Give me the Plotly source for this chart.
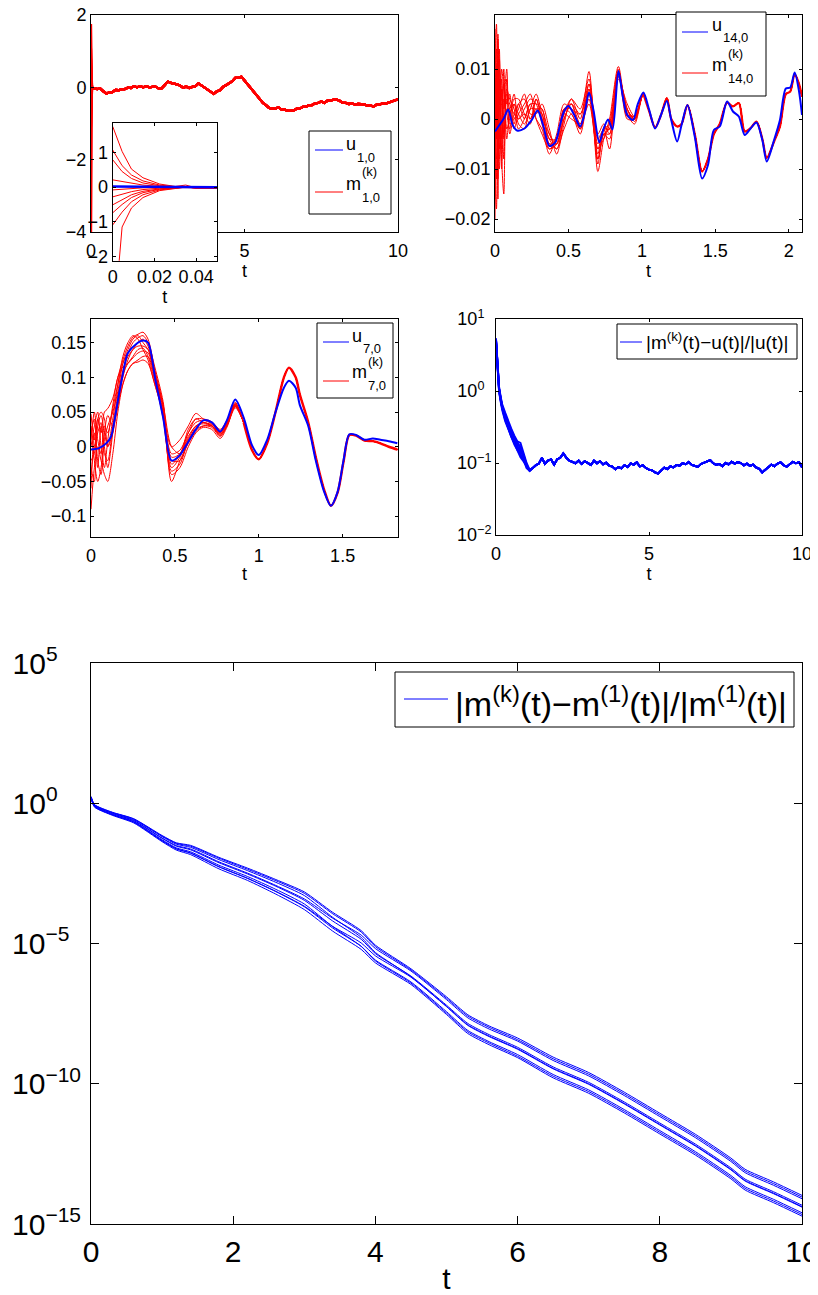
import numpy as np
import plotly.graph_objects as go

# page is 818x1295; the HTML body adds an 8px margin, so the figure is 810x1287
PAGE_W, PAGE_H = 818, 1295
OFF = 8
W, H = PAGE_W - OFF, PAGE_H - OFF
FONT = "Liberation Sans, Arial, Helvetica, sans-serif"
BLUE = "#0000ff"
RED = "#ff0000"

# ---------------- Panel 1 : u_{1,0} and m^{(k)}_{1,0} ----------------
p1_early_t = [0, 0.01, 0.02, 0.03, 0.04, 0.05]
p1_u_early = [0.02, 0.02, 0.02, 0.02, 0.01, 0.0]
p1_tail = [-0.02, -0.05, -0.03, -0.11, -0.17, -0.14, -0.13, -0.07, -0.08, -0.05,
           -0.05, -0.01, -0.02, 0.03, 0.0, 0.03, 0.0, 0.03, 0.0, 0.01,
           0.02, -0.03, -0.03, 0.06, 0.16, 0.12, 0.11, 0.08, 0.05, -0.01,
           0.02, -0.02, 0.01, 0.03, 0.11, 0.05, 0.01, -0.06, -0.11, -0.18,
           -0.11, -0.08, 0.01, 0.05, 0.11, 0.17, 0.26, 0.27, 0.29, 0.19,
           0.09, -0.04, -0.11, -0.23, -0.31, -0.43, -0.49, -0.57, -0.59, -0.59,
           -0.55, -0.61, -0.61, -0.65, -0.65, -0.64, -0.59, -0.59, -0.54, -0.54,
           -0.49, -0.49, -0.44, -0.43, -0.39, -0.43, -0.37, -0.37, -0.34, -0.34,
           -0.37, -0.43, -0.43, -0.46, -0.45, -0.47, -0.46, -0.47, -0.47, -0.51,
           -0.50, -0.53, -0.48, -0.48, -0.44, -0.45, -0.42, -0.41, -0.36, -0.33]
p1_tail_t = list(np.round(np.linspace(0.1, 10.0, len(p1_tail)), 3))

inset_t = [0, 0.0045, 0.009, 0.0145, 0.0225, 0.03, 0.035, 0.04, 0.05]
inset_members = [
    [1.75, 1.03, 0.52, 0.27, 0.09, 0.02, 0.06, -0.02, -0.02],
    [1.07, 0.62, 0.35, 0.18, 0.06, 0.01, 0.0, -0.02, -0.02],
    [0.79, 0.45, 0.25, 0.12, 0.04, 0.01, 0.0, -0.02, -0.02],
    [0.21, 0.16, 0.10, 0.06, 0.02, 0.0, 0.0, -0.02, -0.02],
    [-0.08, -0.06, -0.04, -0.02, -0.01, -0.01, 0.0, -0.02, -0.02],
    [-0.28, -0.20, -0.13, -0.07, -0.03, -0.02, 0.0, -0.02, -0.02],
    [-0.51, -0.36, -0.22, -0.12, -0.05, -0.02, 0.0, -0.02, -0.02],
    [-0.74, -0.50, -0.30, -0.16, -0.06, -0.03, 0.0, -0.02, -0.02],
    [-1.09, -0.72, -0.42, -0.22, -0.08, -0.03, 0.0, -0.02, -0.02],
    [-4.30, -1.15, -0.60, -0.30, -0.10, -0.04, 0.0, -0.02, -0.02],
]

# ---------------- Panel 2 : u_{14,0} ----------------
u14_t = [0, 0.03, 0.06, 0.09, 0.12, 0.15, 0.2, 0.25, 0.29, 0.33,
         0.37, 0.41, 0.44, 0.47, 0.5, 0.54, 0.58, 0.61, 0.64, 0.67,
         0.71, 0.74, 0.77, 0.8, 0.84, 0.87, 0.9, 0.94, 0.97, 1.01,
         1.05, 1.09, 1.13, 1.17, 1.2, 1.24, 1.27, 1.31, 1.36, 1.41,
         1.45, 1.49, 1.53, 1.58, 1.62, 1.66, 1.7, 1.74, 1.78, 1.82,
         1.85, 1.9, 1.94, 1.98, 2.01, 2.04, 2.07, 2.09]
u14 = [-0.0025, -0.0012, 0.0001, 0.0019, -0.0012, -0.0023, -0.0019, -0.0002, 0.0017, -0.0015,
       -0.0054, -0.0047, -0.0015, 0.0015, 0.0026, 0.0008, -0.0015, 0.0011, 0.0053, 0.0018,
       -0.0047, -0.0019, -0.0001, -0.0021, 0.0096, 0.0045, 0.0008, -0.0002, 0.0028, 0.0053,
       0.0018, -0.0019, 0.0008, 0.0036, -0.0002, -0.0045, -0.0012, 0.0028, -0.0035, -0.0119,
       -0.0092, -0.0022, -0.0015, 0.0035, 0.0015, 0.0005, -0.0032, -0.0019, -0.0007, -0.0042,
       -0.0085, -0.0042, -0.0002, 0.0061, 0.0063, 0.0093, 0.0055, 0.0008]
m14_early_t = [0, 0.01, 0.02, 0.03, 0.045, 0.06, 0.08, 0.1, 0.13, 0.16, 0.2, 0.24, 0.28,
               0.32, 0.37, 0.42, 0.47, 0.52, 0.58, 0.64, 0.7, 0.74, 0.78, 0.84, 0.9, 0.95]
m14_members = [
    [0.018, -0.004, 0.016, -0.006, 0.008, 0.002, 0.005, 0.003, 0.001, 0.000, 0.002, 0.004, 0.003,
     -0.001, -0.006, -0.004, 0.002, 0.003, -0.001, 0.006, -0.006, -0.002, -0.001, 0.0095, 0.001, 0.000],
    [-0.020, 0.010, -0.012, 0.008, -0.004, 0.004, 0.001, -0.002, 0.003, 0.001, -0.001, 0.002, 0.005,
     0.001, -0.004, -0.006, 0.000, 0.003, -0.002, 0.004, -0.008, -0.003, -0.002, 0.0085, 0.002, 0.000],
    [0.012, 0.019, -0.002, -0.010, 0.006, -0.003, 0.004, 0.002, -0.001, 0.003, 0.004, 0.000, 0.002,
     0.002, -0.005, -0.005, 0.001, 0.004, 0.000, 0.0095, -0.0105, -0.004, 0.000, 0.0105, 0.0015, 0.0005],
    [-0.012, -0.018, 0.006, 0.012, -0.008, -0.015, 0.006, 0.004, 0.002, -0.002, 0.000, 0.003, 0.000,
     -0.002, -0.007, -0.003, 0.003, 0.002, 0.001, 0.007, -0.003, -0.001, -0.003, 0.009, 0.002, -0.0005],
    [0.005, 0.010, 0.017, 0.004, -0.006, 0.010, -0.002, 0.000, 0.004, 0.004, 0.001, -0.001, 0.004,
     0.000, -0.003, -0.006, -0.002, 0.001, -0.003, 0.005, -0.007, -0.002, -0.002, 0.0095, 0.000, 0.000],
    [-0.006, 0.006, -0.016, 0.010, 0.004, -0.008, 0.008, -0.001, 0.000, 0.002, 0.005, 0.001, 0.001,
     0.003, -0.002, -0.007, -0.001, 0.004, 0.002, 0.008, -0.009, -0.003, -0.004, 0.008, 0.003, 0.0005],
    [0.008, -0.012, 0.008, -0.004, 0.010, 0.006, -0.004, 0.001, 0.003, -0.001, -0.002, 0.002, 0.002,
     0.001, -0.004, -0.004, 0.002, 0.002, -0.002, 0.006, -0.005, -0.002, -0.006, 0.0095, 0.001, -0.001],
    [-0.016, 0.004, 0.012, -0.008, 0.000, 0.007, 0.003, 0.005, -0.002, 0.001, 0.003, 0.005, 0.000,
     -0.003, -0.006, -0.005, 0.001, 0.000, -0.001, 0.003, -0.006, -0.004, -0.001, 0.010, 0.0005, 0.000],
    [0.002, -0.008, -0.006, 0.014, -0.010, 0.002, 0.010, -0.003, 0.001, 0.003, 0.000, 0.003, 0.003,
     0.002, -0.003, -0.005, 0.000, 0.003, 0.001, 0.005, -0.008, -0.003, -0.003, 0.009, 0.002, 0.000],
    [0.010, 0.014, -0.008, 0.002, 0.003, -0.004, 0.002, 0.002, 0.005, 0.000, 0.001, 0.000, 0.004,
     0.000, -0.005, -0.004, 0.002, 0.001, -0.002, 0.007, -0.004, -0.002, -0.002, 0.0085, 0.001, 0.0005],
]
m14_tail_t = [1.01, 1.05, 1.09, 1.13, 1.17, 1.2, 1.24, 1.27, 1.31, 1.36,
              1.41, 1.45, 1.49, 1.53, 1.58, 1.62, 1.66, 1.7, 1.74, 1.78,
              1.82, 1.85, 1.9, 1.94, 1.98, 2.01, 2.04, 2.07, 2.09]
m14_tail = [0.005, 0.0015, -0.0017, 0.0008, 0.0042, 0.0, -0.0015, -0.001, 0.0028, -0.003,
            -0.0105, -0.008, -0.003, -0.001, 0.0033, 0.0025, 0.0032, -0.0025, -0.0018, -0.0005,
            -0.004, -0.0078, -0.0045, -0.0015, 0.005, 0.0055, 0.009, 0.007, 0.0045]

# ---------------- Panel 3 : u_{7,0} ----------------
u7_t = [0, 0.048, 0.095, 0.12, 0.145, 0.17, 0.19, 0.22, 0.27, 0.31,
        0.34, 0.385, 0.43, 0.48, 0.53, 0.575, 0.625, 0.67, 0.72, 0.77,
        0.81, 0.86, 0.91, 0.96, 1.0, 1.05, 1.1, 1.15, 1.18, 1.22,
        1.245, 1.295, 1.34, 1.39, 1.43, 1.47, 1.505, 1.54, 1.58, 1.63,
        1.68, 1.725, 1.775, 1.826]
u7 = [-0.004, -0.002, 0.006, 0.015, 0.045, 0.08, 0.105, 0.135, 0.148, 0.153,
      0.15, 0.095, 0.042, -0.02, -0.012, 0.005, 0.025, 0.038, 0.035, 0.022,
      0.038, 0.068, 0.042, 0.002, -0.012, 0.01, 0.05, 0.085, 0.095, 0.085,
      0.06, 0.03, -0.02, -0.065, -0.085, -0.065, -0.02, 0.018, 0.017, 0.01,
      0.012, 0.01, 0.008, 0.005]
m7_early_t = [0, 0.02, 0.04, 0.06, 0.08, 0.1, 0.13, 0.16, 0.19, 0.22, 0.25, 0.28, 0.31,
              0.34, 0.38, 0.43, 0.48, 0.53, 0.58, 0.625, 0.67, 0.72, 0.77, 0.81, 0.86]
m7_members = [
    [0.047, 0.01, 0.04, 0.02, 0.05, 0.055, 0.07, 0.1, 0.125, 0.145, 0.158, 0.162, 0.165,
     0.155, 0.11, 0.05, 0.0, 0.01, 0.03, 0.048, 0.04, 0.035, 0.022, 0.035, 0.062],
    [-0.09, -0.03, 0.0, -0.02, -0.04, -0.05, -0.01, 0.05, 0.09, 0.11, 0.12, 0.125, 0.13,
     0.13, 0.1, 0.06, 0.0, -0.01, 0.015, 0.03, 0.035, 0.03, 0.018, 0.03, 0.058],
    [-0.06, 0.02, -0.03, 0.03, 0.0, -0.03, 0.02, 0.07, 0.11, 0.13, 0.14, 0.15, 0.155,
     0.145, 0.1, 0.04, -0.03, -0.015, 0.02, 0.035, 0.038, 0.033, 0.02, 0.033, 0.06],
    [0.02, 0.04, -0.02, -0.04, 0.01, 0.03, 0.05, 0.08, 0.12, 0.14, 0.155, 0.16, 0.15,
     0.14, 0.11, 0.06, -0.02, -0.02, 0.01, 0.025, 0.03, 0.028, 0.015, 0.03, 0.058],
    [-0.03, -0.05, 0.03, 0.045, 0.02, 0.0, 0.04, 0.09, 0.13, 0.15, 0.16, 0.155, 0.14,
     0.125, 0.09, 0.05, -0.01, -0.005, 0.02, 0.04, 0.04, 0.036, 0.025, 0.038, 0.064],
    [0.0, 0.03, 0.05, 0.0, -0.03, 0.01, 0.06, 0.1, 0.115, 0.12, 0.128, 0.135, 0.138,
     0.135, 0.105, 0.06, -0.04, -0.03, 0.0, 0.02, 0.028, 0.025, 0.012, 0.028, 0.056],
    [0.03, -0.02, -0.05, -0.03, 0.02, 0.045, 0.03, 0.06, 0.1, 0.125, 0.14, 0.145, 0.145,
     0.14, 0.1, 0.055, -0.05, -0.02, 0.005, 0.022, 0.03, 0.03, 0.018, 0.032, 0.06],
    [-0.04, 0.0, 0.02, 0.035, -0.01, -0.02, 0.03, 0.075, 0.105, 0.12, 0.13, 0.14, 0.142,
     0.13, 0.095, 0.05, -0.015, -0.01, 0.025, 0.04, 0.035, 0.032, 0.02, 0.036, 0.062],
    [0.01, 0.05, 0.01, -0.01, 0.03, 0.02, 0.055, 0.09, 0.12, 0.135, 0.15, 0.157, 0.16,
     0.15, 0.115, 0.065, -0.025, -0.012, 0.012, 0.03, 0.033, 0.03, 0.016, 0.03, 0.059],
    [-0.02, -0.01, 0.04, 0.05, 0.04, 0.0, 0.02, 0.06, 0.09, 0.11, 0.12, 0.122, 0.125,
     0.12, 0.09, 0.045, -0.035, -0.025, 0.008, 0.028, 0.035, 0.03, 0.02, 0.034, 0.061],
]
m7_tail_t = [0.91, 0.96, 1.0, 1.05, 1.1, 1.15, 1.18, 1.22, 1.245, 1.295, 1.34,
             1.39, 1.43, 1.47, 1.505, 1.54, 1.58, 1.63, 1.68, 1.725, 1.775, 1.826]
m7_tail = [0.035, -0.005, -0.018, 0.005, 0.05, 0.1, 0.114, 0.1, 0.075, 0.035, -0.015,
           -0.062, -0.085, -0.066, -0.022, 0.017, 0.016, 0.009, 0.008, 0.005, 0.0, -0.004]

# ---------------- Panel 4 : |m^(k)-u|/|u| ----------------
err_early_t = [0, 0.03, 0.06, 0.1, 0.15, 0.2, 0.3, 0.4, 0.5, 0.6, 0.7, 0.8, 0.9, 1.0, 1.1]
err_members = [
    [5.2, 3.1, 2.0, 1.1, 0.8, 0.6, 0.45, 0.36, 0.28, 0.22, 0.17, 0.15, 0.12, 0.09, 0.08],
    [5.0, 2.8, 1.9, 1.0, 0.75, 0.58, 0.4, 0.3, 0.24, 0.19, 0.15, 0.13, 0.11, 0.085, 0.078],
    [5.4, 3.3, 2.1, 1.15, 0.85, 0.66, 0.5, 0.38, 0.3, 0.24, 0.2, 0.19, 0.14, 0.1, 0.08],
    [4.8, 2.9, 1.8, 0.98, 0.72, 0.55, 0.38, 0.29, 0.22, 0.18, 0.15, 0.12, 0.105, 0.09, 0.078],
    [5.1, 3.0, 2.05, 1.08, 0.82, 0.63, 0.47, 0.35, 0.27, 0.2, 0.16, 0.14, 0.13, 0.095, 0.08],
    [5.3, 3.2, 2.0, 1.05, 0.78, 0.6, 0.42, 0.32, 0.25, 0.21, 0.18, 0.16, 0.12, 0.092, 0.078],
    [4.9, 2.9, 1.95, 1.02, 0.77, 0.6, 0.44, 0.34, 0.27, 0.23, 0.19, 0.17, 0.13, 0.09, 0.079],
    [5.2, 3.1, 2.1, 1.1, 0.8, 0.61, 0.41, 0.31, 0.23, 0.19, 0.16, 0.13, 0.115, 0.088, 0.078],
]
err_tail = [0.085, 0.093, 0.098, 0.118, 0.097, 0.108, 0.112, 0.095, 0.113, 0.118,
            0.136, 0.118, 0.108, 0.104, 0.099, 0.108, 0.097, 0.106, 0.100, 0.094,
            0.108, 0.099, 0.106, 0.096, 0.101, 0.092, 0.089, 0.082, 0.088, 0.084,
            0.093, 0.088, 0.099, 0.095, 0.102, 0.090, 0.093, 0.085, 0.081, 0.079,
            0.074, 0.071, 0.079, 0.086, 0.082, 0.090, 0.087, 0.094, 0.092, 0.100,
            0.096, 0.103, 0.094, 0.092, 0.088, 0.097, 0.101, 0.106, 0.110, 0.099,
            0.094, 0.097, 0.090, 0.100, 0.096, 0.104, 0.098, 0.103, 0.100, 0.093,
            0.098, 0.091, 0.095, 0.087, 0.083, 0.074, 0.080, 0.086, 0.095, 0.090,
            0.098, 0.102, 0.093, 0.089, 0.097, 0.104, 0.099, 0.103, 0.087]
err_tail_t = list(np.round(np.linspace(1.2, 10.0, len(err_tail)), 3))

# ---------------- Panel 5 : |m^(k)-m^(1)|/|m^(1)| (log10 values) ----------------
d_t = [0, 0.05, 0.3, 0.6, 1.0, 1.2, 1.4, 1.8, 2.2, 2.6, 3.0, 3.4, 3.8, 4.0,
       4.5, 5.0, 5.3, 5.6, 6.0, 6.5, 7.0, 7.5, 8.0, 8.5, 9.0, 9.2, 9.6, 10.0]
d_log10 = [
    [0.24, -0.05, -0.32, -0.55, -1.15, -1.41, -1.5, -1.93, -2.31, -2.72, -3.16, -3.89, -4.54, -5.06,
     -5.9, -6.9, -7.54, -7.94, -8.37, -9.05, -9.6, -10.3, -11.05, -11.8, -12.65, -13.05, -13.5, -13.98],
    [0.23, -0.06, -0.33, -0.56, -1.17, -1.43, -1.53, -1.96, -2.35, -2.76, -3.21, -3.94, -4.59, -5.11,
     -5.94, -6.95, -7.59, -7.99, -8.43, -9.11, -9.66, -10.36, -11.11, -11.86, -12.71, -13.11, -13.56, -14.04],
    [0.21, -0.09, -0.36, -0.61, -1.24, -1.51, -1.63, -2.09, -2.49, -2.93, -3.41, -4.1, -4.7, -5.18,
     -5.98, -7.0, -7.65, -8.05, -8.48, -9.17, -9.72, -10.42, -11.17, -11.92, -12.77, -13.17, -13.62, -14.1],
    [0.21, -0.09, -0.37, -0.62, -1.25, -1.53, -1.66, -2.12, -2.52, -2.96, -3.46, -4.2, -4.85, -5.36,
     -6.16, -7.2, -7.85, -8.25, -8.7, -9.4, -9.95, -10.65, -11.4, -12.15, -13.0, -13.4, -13.85, -14.33],
    [0.23, -0.07, -0.34, -0.58, -1.19, -1.46, -1.57, -2.01, -2.4, -2.82, -3.29, -4.07, -4.78, -5.32,
     -6.18, -7.25, -7.92, -8.32, -8.77, -9.47, -10.02, -10.72, -11.47, -12.22, -13.07, -13.47, -13.92, -14.4],
    [0.18, -0.13, -0.41, -0.67, -1.34, -1.63, -1.78, -2.27, -2.68, -3.15, -3.69, -4.45, -5.1, -5.59,
     -6.37, -7.43, -8.1, -8.5, -8.96, -9.67, -10.22, -10.92, -11.67, -12.42, -13.27, -13.67, -14.12, -14.6],
    [0.19, -0.11, -0.4, -0.65, -1.3, -1.59, -1.73, -2.21, -2.61, -3.07, -3.59, -4.4, -5.1, -5.62,
     -6.41, -7.48, -8.15, -8.55, -9.02, -9.73, -10.28, -10.98, -11.73, -12.48, -13.33, -13.73, -14.18, -14.66],
    [0.17, -0.14, -0.43, -0.7, -1.37, -1.67, -1.83, -2.34, -2.75, -3.24, -3.79, -4.56, -5.21, -5.69,
     -6.46, -7.53, -8.21, -8.61, -9.07, -9.79, -10.34, -11.04, -11.79, -12.54, -13.39, -13.79, -14.24, -14.72],
    [0.18, -0.12, -0.41, -0.67, -1.33, -1.62, -1.77, -2.26, -2.67, -3.14, -3.67, -4.39, -4.98, -5.44,
     -6.2, -7.24, -7.9, -8.3, -8.75, -9.45, -10.0, -10.7, -11.45, -12.2, -13.05, -13.45, -13.9, -14.38],
]

# ---------------- figure ----------------
def PX(x):
    """page pixel x -> paper fraction"""
    return (x - OFF) / W

def PY(y):
    """page pixel y (from top) -> paper fraction"""
    return 1 - (y - OFF) / H

fig = go.Figure()

def line(x, y, ax, color, width, shape="linear", smoothing=0.8):
    fig.add_trace(go.Scatter(x=x, y=y, mode="lines", xaxis="x" + ax, yaxis="y" + ax,
                             line=dict(color=color, width=width, shape=shape, smoothing=smoothing),
                             showlegend=False, hoverinfo="skip"))

# panel 1
line(p1_early_t + p1_tail_t, p1_u_early + p1_tail, "", BLUE, 2)
for m in inset_members:
    line(inset_t + p1_tail_t, m + p1_tail, "", RED, 2.3)

# panel 2
for m in m14_members:
    line(m14_early_t + m14_tail_t, m + m14_tail, "2", RED, 1, "spline")
line(m14_tail_t, m14_tail, "2", RED, 2.2, "spline")
line(u14_t, u14, "2", BLUE, 2, "spline")

# panel 3
for m in m7_members:
    line(m7_early_t + m7_tail_t, m + m7_tail, "3", RED, 1, "spline")
line(m7_tail_t, m7_tail, "3", RED, 2.4, "spline")
line(u7_t, u7, "3", BLUE, 2, "spline")

# panel 4
for m in err_members:
    line(err_early_t + err_tail_t, m + err_tail, "4", BLUE, 1.9)

# panel 5
for c in d_log10:
    line(d_t, list(10 ** np.array(c)), "5", BLUE, 1, "spline", 0.6)

# inset (drawn last so it sits on top of panel 1)
for m in inset_members:
    line(inset_t, m, "6", RED, 1)
line(p1_early_t, p1_u_early, "6", BLUE, 2.5)

def axis(dom, anchor, fs=18, tl=3, **kw):
    d = dict(domain=dom, anchor=anchor, showline=True, linecolor="black", linewidth=1,
             mirror="ticks", ticks="inside", ticklen=tl, tickcolor="black", tickwidth=1,
             showgrid=False, zeroline=False, automargin=False, ticklabeloverflow="allow",
             tickfont=dict(family=FONT, size=fs, color="black"))
    d.update(kw)
    return d

def ttl(fs, so):
    return dict(text="t", font=dict(family=FONT, size=fs, color="black"), standoff=so)

fig.update_layout(
    width=W, height=H, autosize=False,
    margin=dict(l=0, r=0, t=0, b=0, pad=0, autoexpand=False),
    paper_bgcolor="white", plot_bgcolor="white",
    font=dict(family=FONT, color="black"),
    showlegend=False,
    # panel 1
    xaxis=axis([PX(91), PX(398)], "y", range=[0, 10], tickvals=[0, 5, 10],
               ticklabelstandoff=2, title=ttl(18, 2)),
    yaxis=axis([PY(232), PY(15)], "x", range=[-4, 2], tickvals=[-4, -2, 0, 2]),
    # panel 2
    xaxis2=axis([PX(495), PX(802)], "y2", range=[0, 2.09], tickvals=[0, 0.5, 1, 1.5, 2],
                ticklabelstandoff=2, title=ttl(18, 2)),
    yaxis2=axis([PY(232), PY(15)], "x2", range=[-0.0226, 0.0208],
                tickvals=[-0.02, -0.01, 0, 0.01]),
    # panel 3
    xaxis3=axis([PX(91), PX(398)], "y3", range=[0, 1.83], tickvals=[0, 0.5, 1, 1.5],
                ticklabelstandoff=2, title=ttl(18, 2)),
    yaxis3=axis([PY(537), PY(319)], "x3", range=[-0.13, 0.184],
                tickvals=[-0.1, -0.05, 0, 0.05, 0.1, 0.15]),
    # panel 4
    xaxis4=axis([PX(496), PX(802)], "y4", range=[0, 10], tickvals=[0, 5, 10],
                ticklabelstandoff=2, title=ttl(18, 2)),
    yaxis4=axis([PY(535), PY(319)], "x4", type="log", range=[-2, 1],
                tickvals=[0.01, 0.1, 1, 10],
                ticktext=["10<sup>−2</sup>", "10<sup>−1</sup>",
                          "10<sup>0&nbsp;&nbsp;</sup>", "10<sup>1&nbsp;&nbsp;</sup>"]),
    # panel 5
    xaxis5=axis([PX(91), PX(802)], "y5", fs=30, tl=8, range=[0, 10],
                tickvals=[0, 2, 4, 6, 8, 10], ticklabelstandoff=1, title=ttl(30, 12)),
    yaxis5=axis([PY(1224), PY(663)], "x5", fs=30, tl=8, type="log", range=[-15, 5],
                tickvals=[1e-15, 1e-10, 1e-5, 1, 1e5],
                ticktext=["10<sup>−15</sup>", "10<sup>−10</sup>",
                          "10<sup>−5&nbsp;&nbsp;</sup>",
                          "10<sup>0&nbsp;&nbsp;&nbsp;&nbsp;</sup>",
                          "10<sup>5&nbsp;&nbsp;&nbsp;&nbsp;</sup>"],
                ticklabelstandoff=3),
    # inset
    xaxis6=axis([PX(112.7), PX(217)], "y6", range=[0, 0.05], tickvals=[0, 0.02, 0.04],
                ticklabelstandoff=0, title=ttl(18, 0)),
    yaxis6=axis([PY(260.7), PY(123.3)], "x6", range=[-2.12, 1.84],
                tickvals=[-2, -1, 0, 1]),
)

# ---------------- legends (boxes, sample lines, stacked sub/superscripts) ----------------
shapes = []
annos = []

def box(x0, y0, x1, y1):
    shapes.append(dict(type="rect", xref="paper", yref="paper", x0=PX(x0), x1=PX(x1),
                       y0=PY(y1), y1=PY(y0), line=dict(color="black", width=1),
                       fillcolor="white", layer="above"))

def sample(x0, x1, y, color):
    shapes.append(dict(type="line", xref="paper", yref="paper", x0=PX(x0), x1=PX(x1),
                       y0=PY(y), y1=PY(y), line=dict(color=color, width=1), layer="above"))

def text(x, y, s, fs):
    annos.append(dict(xref="paper", yref="paper", x=PX(x), y=PY(y), text=s, showarrow=False,
                      xanchor="left", yanchor="middle", borderpad=0,
                      font=dict(family=FONT, size=fs, color="black")))

def stacked_legend(bx, sx, tx, ys, idx):
    box(*bx)
    sample(sx[0], sx[1], ys["lu"], BLUE)
    sample(sx[0], sx[1], ys["lm"], RED)
    text(tx, ys["u"], "u", 18)
    text(tx + 11, ys["su"], idx, 13)
    text(tx + 16, ys["k"], "(k)", 13)
    text(tx, ys["m"], "m", 18)
    text(tx + 16, ys["sm"], idx, 13)

stacked_legend((309, 131, 391, 214), (315, 343), 345,
               dict(lu=150, lm=192, u=144, su=157, k=171, m=184, sm=197), "1,0")
stacked_legend((676, 12, 766, 96), (682, 708), 711,
               dict(lu=32, lm=73, u=25, su=38, k=54, m=65, sm=79), "14,0")
stacked_legend((317, 323, 393, 398), (323, 349), 351,
               dict(lu=342, lm=381, u=336, su=349, k=361, m=372, sm=385), "7,0")

box(617, 324, 797, 359)
sample(620, 642, 342, BLUE)
text(645, 341, "|m<sup>(k)</sup>(t)−u(t)|/|u(t)|", 19)

box(395, 672, 794, 727)
sample(404, 448, 699, BLUE)
text(454, 701, "|m<sup>(k)</sup>(t)−m<sup>(1)</sup>(t)|/|m<sup>(1)</sup>(t)|", 34)

fig.update_layout(shapes=shapes, annotations=annos)

fig.write_html("out.html")
